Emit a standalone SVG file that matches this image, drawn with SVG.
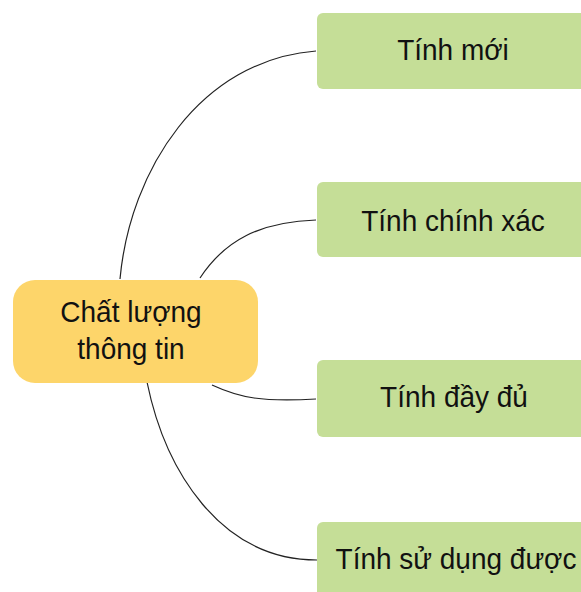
<svg xmlns="http://www.w3.org/2000/svg" width="581" height="592" viewBox="0 0 581 592">
<style>
.leaf{fill:#C5DE97;}
.root{fill:#FDD56A;}
.t{font-family:"Liberation Sans",Arial,sans-serif;font-size:28px;fill:#111;text-anchor:middle;}
.c{fill:none;stroke:#222;stroke-width:1.2;}
</style>
<rect width="581" height="592" fill="#fff"/>
<g id="connectors">
<path class="c" d="M120,279 C130,170 200,60 316,51"/>
<path class="c" d="M200,278 C225,240 260,222 316,220"/>
<path class="c" d="M212,385 C240,398 262,402 316,399"/>
<path class="c" d="M147,382 C165,470 220,560 317,560"/>
</g>
<g id="root">
<rect class="root" x="13" y="280" width="245" height="103" rx="22"/>
<text class="t" transform="translate(131,322) scale(1,1.05)">Chất lượng</text>
<text class="t" transform="translate(131,359) scale(1,1.05)">thông tin</text>
</g>
<g id="n1">
<rect class="leaf" x="317" y="13" width="280" height="76" rx="6"/>
<text class="t" transform="translate(453,60) scale(1,1.05)">Tính mới</text>
</g>
<g id="n2">
<rect class="leaf" x="317" y="182" width="280" height="75" rx="6"/>
<text class="t" transform="translate(453,231) scale(1,1.05)">Tính chính xác</text>
</g>
<g id="n3">
<rect class="leaf" x="317" y="360" width="280" height="77" rx="6"/>
<text class="t" transform="translate(454,407) scale(1,1.05)">Tính đầy đủ</text>
</g>
<g id="n4">
<rect class="leaf" x="317" y="522" width="280" height="90" rx="6"/>
<text class="t" transform="translate(456,569) scale(1,1.05)">Tính sử dụng được</text>
</g>
</svg>
